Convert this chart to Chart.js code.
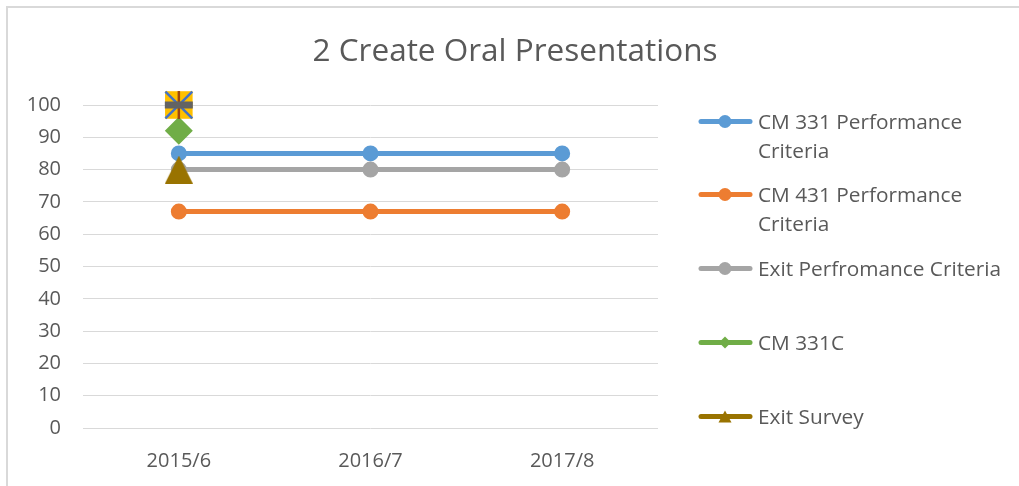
<!DOCTYPE html>
<html><head><meta charset="utf-8">
<script src="https://cdn.jsdelivr.net/npm/chart.js@4"></script>
<style>
body{margin:0;background:#fff;}
#wrap{position:relative;width:1019px;height:486px;overflow:hidden;font-family:"Open Sans",sans-serif;color:#595959;background:#fff}
#frame{position:absolute;left:6px;top:6px;width:1100px;height:600px;border-left:2px solid #d9d9d9;border-top:2px solid #d9d9d9}
#title{position:absolute;left:0;width:1030px;top:27px;text-align:center;font-size:31.5px;font-weight:400;white-space:nowrap}
#chart{position:absolute;left:0;top:0}
.item{position:absolute;left:698px;width:320px}
.sw{position:absolute;left:0;top:0}
.txt{position:absolute;left:60px;top:0;width:255px;font-size:20.8px;line-height:29px}
</style>
</head><body>
<div id="wrap">
<div id="frame"></div>
<canvas id="chart" width="1019" height="486"></canvas>
<div id="title">2 Create Oral Presentations</div>
<div id="legend"></div>
</div>
<script>
const categories = ["2015/6", "2016/7", "2017/8"];
const yTicks = [0, 10, 20, 30, 40, 50, 60, 70, 80, 90, 100];
const seriesNames = ["CM 331 Performance Criteria", "CM 431 Performance Criteria", "Exit Perfromance Criteria", "Series 4", "Series 5", "CM 331C", "Series 8", "Series 9", "Exit Survey"];
const cm331Perf = [85, 85, 85];
const cm431Perf = [67, 67, 67];
const exitPerf = [80, 80, 80];
const series4 = [100, null, null];
const series5 = [100, null, null];
const cm331C = [92, null, null];
const series8 = [100, null, null];
const series9 = [100, null, null];
const exitSurvey = [80, null, null];
const legendShown = ["CM 331 Performance Criteria", "CM 431 Performance Criteria", "Exit Perfromance Criteria", "CM 331C", "Exit Survey"];

const FONT = "Open Sans";
const TXT = "#595959";

function triImg(w, h, color) {
  const c = document.createElement('canvas');
  c.width = w; c.height = h;
  const g = c.getContext('2d');
  g.fillStyle = color;
  g.beginPath(); g.moveTo(0, h); g.lineTo(w / 2, 0); g.lineTo(w, h); g.closePath(); g.fill();
  return c;
}

const specs = [
  {data: cm331Perf, color: '#5B9BD5', style: 'circle', r: 7, bw: 2},
  {data: cm431Perf, color: '#ED7D31', style: 'circle', r: 7, bw: 2},
  {data: exitPerf, color: '#A5A5A5', style: 'circle', r: 7, bw: 2},
  {data: series4, color: '#FFC000', style: 'rect', r: 19.5, bw: 0},
  {data: series5, color: '#4472C4', style: 'crossRot', r: 19, bw: 2.5},
  {data: cm331C, color: '#70AD47', style: 'rectRot', r: 14, bw: 0},
  {data: series8, color: '#9E480E', style: 'line', r: 14, bw: 2.5, rot: 90},
  {data: series9, color: '#636363', style: 'line', r: 14, bw: 7},
  {data: exitSurvey, color: '#997300', style: triImg(28, 28, '#997300'), r: 14, bw: 0}
];

const datasets = specs.map((s, i) => ({
  label: seriesNames[i],
  data: s.data,
  borderColor: s.color,
  backgroundColor: s.color,
  borderWidth: 5,
  pointStyle: s.style,
  pointRadius: s.r,
  pointBorderWidth: s.bw,
  pointRotation: s.rot || 0,
  pointBorderColor: s.color,
  pointBackgroundColor: s.color,
  tension: 0,
  order: specs.length - i,
  clip: false,
  spanGaps: false
}));

new Chart(document.getElementById('chart'), {
  type: 'line',
  data: {labels: categories, datasets: datasets},
  options: {
    responsive: false,
    animation: false,
    events: [],
    layout: {padding: {left: 0, right: 361, top: 105, bottom: 0}},
    plugins: {legend: {display: false}, tooltip: {enabled: false}, title: {display: false}},
    scales: {
      x: {
        offset: true,
        grid: {display: false, drawTicks: false},
        border: {display: false},
        ticks: {font: {family: FONT, size: 20}, color: TXT, padding: 21},
        afterFit(s) { s.height = 58; }
      },
      y: {
        min: 0, max: 100,
        afterBuildTicks(s) { s.ticks = yTicks.map(v => ({value: v})); },
        grid: {color: '#d9d9d9', lineWidth: 1, drawTicks: false},
        border: {display: false},
        ticks: {font: {family: FONT, size: 20}, color: TXT, padding: 22},
        afterFit(s) { s.width = 83; }
      }
    }
  }
});

// HTML legend
const legend = document.getElementById('legend');
legendShown.forEach((name, k) => {
  const i = seriesNames.indexOf(name);
  const s = specs[i];
  const cy = 121 + k * 73.75;
  const item = document.createElement('div');
  item.className = 'item';
  item.style.top = (cy - 14.5) + 'px';
  const cv = document.createElement('canvas');
  cv.width = 56; cv.height = 29; cv.className = 'sw';
  const g = cv.getContext('2d');
  g.strokeStyle = s.color; g.fillStyle = s.color; g.lineWidth = 5; g.lineCap = 'round';
  g.beginPath(); g.moveTo(3, 14.5); g.lineTo(52, 14.5); g.stroke();
  const mx = 27, my = 14.5;
  g.beginPath();
  if (s.style === 'circle') { g.arc(mx, my, 6.5, 0, Math.PI * 2); }
  else if (s.style === 'rectRot') { g.moveTo(mx, my - 6); g.lineTo(mx + 6, my); g.lineTo(mx, my + 6); g.lineTo(mx - 6, my); g.closePath(); }
  else { g.moveTo(mx - 6.5, my + 6); g.lineTo(mx, my - 6); g.lineTo(mx + 6.5, my + 6); g.closePath(); }
  g.fill();
  item.appendChild(cv);
  const t = document.createElement('div');
  t.className = 'txt';
  t.style.top = '0px';
  t.textContent = name;
  item.appendChild(t);
  legend.appendChild(item);
});
</script>
</body></html>
